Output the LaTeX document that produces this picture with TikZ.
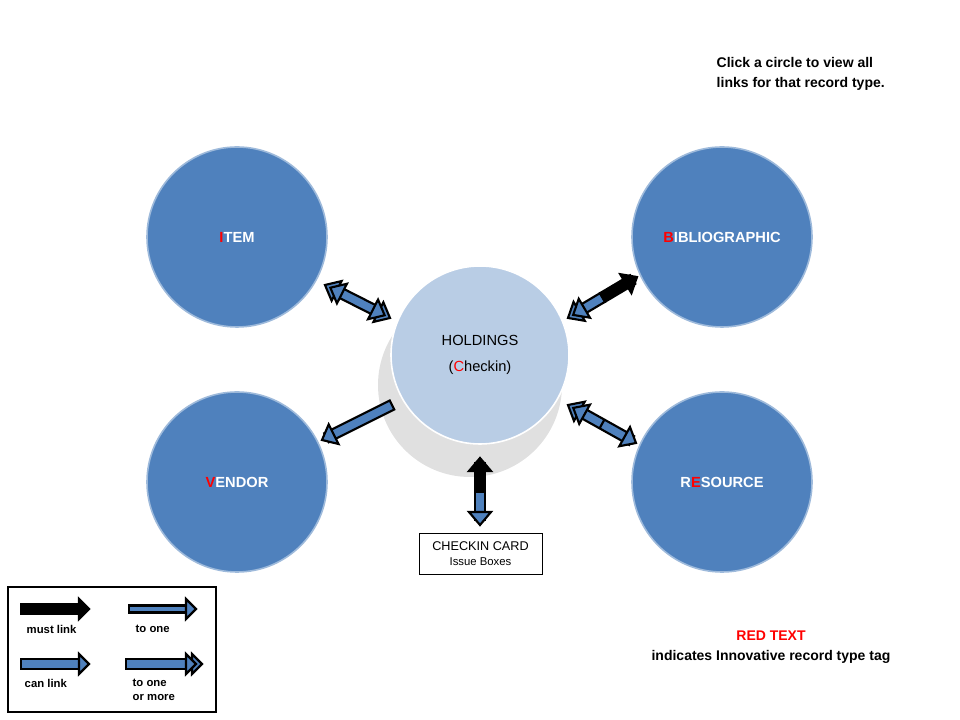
\documentclass[tikz,border=0pt]{standalone}
\usepackage{fontspec}
\setmainfont{Liberation Sans}
\usetikzlibrary{calc}
\definecolor{cblue}{HTML}{4F81BD}
\definecolor{clight}{HTML}{B9CDE5}
\definecolor{cred}{HTML}{FF0000}
\newcommand\sw{5}\newcommand\hw{11}\newcommand\hl{13}
\tikzset{apart/.style={draw=black,line width=1.6pt,line join=miter,fill=#1},
  rec/.style={circle,minimum size=#1,inner sep=0pt,fill=cblue,draw=cblue!55!white,line width=1.2pt,text=white,font=\bfseries\fontsize{11}{13}\selectfont},
  lab/.style={font=\bfseries\fontsize{8.5}{10}\selectfont,anchor=west,align=left}}
% shaft from a to b
\newcommand\shaft[3]{\filldraw[apart=#3] (#1,-\sw) rectangle (#2,\sw);}
\newcommand\headR[2]{\filldraw[apart=#2] (#1-\hl,-\sw)--(#1-\hl,-\hw)--(#1,0)--(#1-\hl,\hw)--(#1-\hl,\sw)--cycle;}
\newcommand\headL[2]{\filldraw[apart=#2] (#1+\hl,-\sw)--(#1+\hl,-\hw)--(#1,0)--(#1+\hl,\hw)--(#1+\hl,\sw)--cycle;}
\newcommand\arr[5]{%
 \pgfmathsetmacro\ang{atan2(#4-#2,#3-#1)}%
 \pgfmathsetmacro\L{veclen(#3-#1,#4-#2)}%
 \pgfmathsetmacro\M{\L/2}%
 \begin{scope}[shift={(#1,#2)},rotate=\ang]#5\end{scope}}
\begin{document}
\begin{tikzpicture}[x=0.75pt,y=0.75pt]
\useasboundingbox (0,0) rectangle (960,720);
% shadow
\fill[black!25] (473,340) circle (88);
\fill[black!12] (470,335) circle (92);
\fill[white] (480,365) circle (89);
% circles
\node[rec=180pt*0.75] (item) at (237,483) {{\color{cred}I}TEM};
\node[rec=180pt*0.75] (bib) at (722,483) {{\color{cred}B}IBLIOGRAPHIC};
\node[rec=180pt*0.75] (ven) at (237,238) {{\color{cred}V}ENDOR};
\node[rec=180pt*0.75] (res) at (722,238) {R{\color{cred}E}SOURCE};
\node[rec=178pt*0.75,fill=clight,draw=white,text=black,align=center,font=\fontsize{11}{20}\selectfont] (hold) at (480,365) {HOLDINGS\\({\color{cred}C}heckin)};
% arrows
\arr{325}{435}{390}{402}{\shaft{8}{\L-8}{cblue}\headR{\L}{cblue}\headR{\L-6}{cblue}\headL{0}{cblue}\headL{6}{cblue}}
\arr{568}{402}{637}{443}{\shaft{8}{\M}{cblue}\shaft{\M}{\L-5}{black}\headR{\L}{black}\headL{0}{cblue}\headL{6}{cblue}}
\arr{392}{315}{322}{280}{\shaft{0}{\L-5}{cblue}\headR{\L}{cblue}}
\arr{568}{315}{636}{277}{\shaft{8}{\L-5}{cblue}\draw[line width=1.6pt] (\M,-\sw)--(\M,\sw);\headR{\L}{cblue}\headL{0}{cblue}\headL{6}{cblue}}
\arr{480}{195}{480}{262}{\shaft{5}{\M}{cblue}\shaft{\M}{\L-5}{black}\headR{\L}{black}\headL{0}{cblue}}
% card
\node[draw,line width=0.6pt,minimum width=123pt*0.75,minimum height=41pt*0.75,align=center,inner sep=1pt] (card) at (480.5,166.5) {\fontsize{9.5}{11}\selectfont CHECKIN CARD\\[-1pt]\fontsize{8.5}{10}\selectfont Issue Boxes};
% top text
\node[anchor=north west,align=left,font=\bfseries\fontsize{10.5}{15}\selectfont] (tip) at (712,667) {Click a circle to view all\\links for that record type.};
% red text note
\node[align=center,font=\bfseries\fontsize{10.5}{15}\selectfont] (note) at (771,73) {{\color{cred}RED TEXT}\\indicates Innovative record type tag};
% legend
\node[draw,line width=0.8pt,minimum width=208pt*0.75,minimum height=125pt*0.75,inner sep=0pt] (leg) at (112,70.5) {};
\renewcommand\sw{5}\renewcommand\hw{10}\renewcommand\hl{10}
\arr{21}{111}{89}{111}{\shaft{0}{\L-5}{black}\headR{\L}{black}}
\renewcommand\sw{3.5}
\arr{129}{111}{196}{111}{\shaft{0}{\L-5}{cblue}\headR{\L}{cblue}}
\renewcommand\sw{5}
\arr{21}{56}{89}{56}{\shaft{0}{\L-5}{cblue}\headR{\L}{cblue}}
\arr{126}{56}{202}{56}{\shaft{0}{\L-10}{cblue}\headR{\L}{cblue}\headR{\L-6}{cblue}}
\node[lab] (l1) at (22,91) {must link};
\node[lab] (l2) at (131,91) {to one};
\node[lab] (l3) at (20,37) {can link};
\node[lab,align=left] (l4) at (128,30) {to one\\or more};
\end{tikzpicture}
\end{document}
